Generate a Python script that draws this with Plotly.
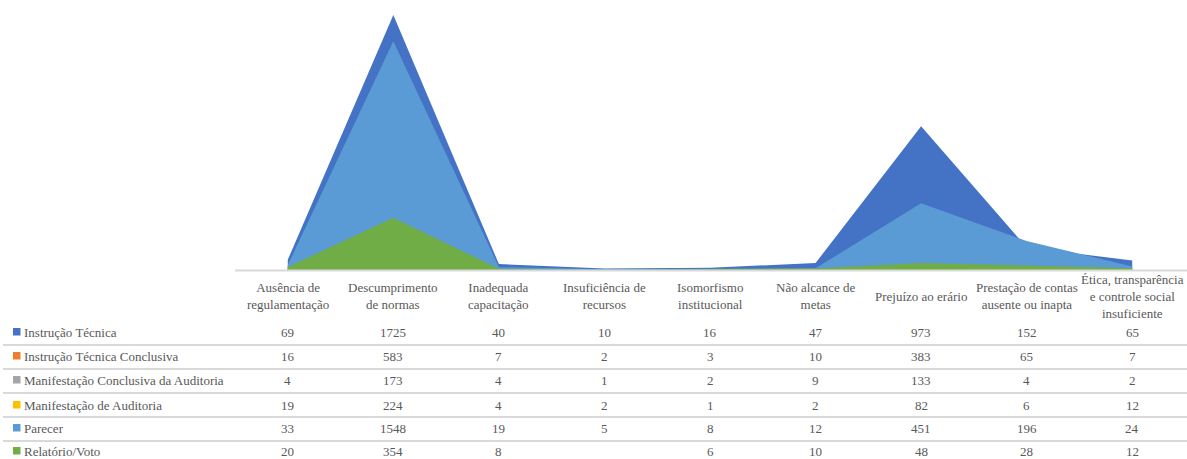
import plotly.graph_objects as go

categories = [
    "Ausência de<br>regulamentação",
    "Descumprimento<br>de normas",
    "Inadequada<br>capacitação",
    "Insuficiência de<br>recursos",
    "Isomorfismo<br>institucional",
    "Não alcance de<br>metas",
    "Prejuízo ao erário",
    "Prestação de contas<br>ausente ou inapta",
    "Ética, transparência<br>e controle social<br>insuficiente",
]

series_names = [
    "Instrução Técnica",
    "Instrução Técnica Conclusiva",
    "Manifestação Conclusiva da Auditoria",
    "Manifestação de Auditoria",
    "Parecer",
    "Relatório/Voto",
]

instrucao_tecnica = [69, 1725, 40, 10, 16, 47, 973, 152, 65]
instrucao_tecnica_conclusiva = [16, 583, 7, 2, 3, 10, 383, 65, 7]
manifestacao_conclusiva = [4, 173, 4, 1, 2, 9, 133, 4, 2]
manifestacao_auditoria = [19, 224, 4, 2, 1, 2, 82, 6, 12]
parecer = [33, 1548, 19, 5, 8, 12, 451, 196, 24]
relatorio_voto = [20, 354, 8, None, 6, 10, 48, 28, 12]

series_values = [
    instrucao_tecnica,
    instrucao_tecnica_conclusiva,
    manifestacao_conclusiva,
    manifestacao_auditoria,
    parecer,
    relatorio_voto,
]

colors = ["#4472C4", "#ED7D31", "#A5A5A5", "#FFC000", "#5B9BD5", "#70AD47"]

W, H = 1187, 459
FONT = "Liberation Serif"
TXT = "#595959"

def px(x):
    return x / W

def py(y):
    return 1 - y / H

fig = go.Figure()
xs = list(range(len(categories)))
for name, vals, col in zip(series_names, series_values, colors):
    fig.add_trace(go.Scatter(
        x=xs, y=[v if v is not None else 0 for v in vals],
        name=name, mode="lines", fill="tozeroy",
        line=dict(width=0, color=col), fillcolor=col,
        showlegend=False,
    ))

annotations = []
shapes = []
# category labels
for i, c in enumerate(categories):
    annotations.append(dict(
        x=i, xref="x", y=py(296), yref="paper", text=c, showarrow=False,
        font=dict(family=FONT, size=13, color=TXT), align="center",
        xanchor="center", yanchor="middle",
    ))

row_y = [332, 356, 380, 405, 428, 451]
sep_y = [345, 369, 393, 417, 441]

for r, (name, vals, col) in enumerate(zip(series_names, series_values, colors)):
    yc = row_y[r]
    shapes.append(dict(type="rect", xref="paper", yref="paper",
                       x0=px(13), x1=px(20.5), y0=py(yc + 3.5), y1=py(yc - 4),
                       fillcolor=col, line=dict(width=0)))
    annotations.append(dict(
        x=px(21.5), xref="paper", y=py(yc), yref="paper", text=name,
        showarrow=False, font=dict(family=FONT, size=13, color=TXT),
        xanchor="left", yanchor="middle",
    ))
    for i, v in enumerate(vals):
        if v is None:
            continue
        annotations.append(dict(
            x=i, xref="x", y=py(yc), yref="paper", text=str(v),
            showarrow=False, font=dict(family=FONT, size=13, color=TXT),
            xanchor="center", yanchor="middle",
        ))

for yy in sep_y:
    shapes.append(dict(type="line", xref="paper", yref="paper",
                       x0=px(3), x1=1, y0=py(yy), y1=py(yy),
                       line=dict(color="#D9D9D9", width=2)))
# axis line
shapes.append(dict(type="line", xref="paper", yref="paper",
                   x0=px(235), x1=1, y0=py(270.5), y1=py(270.5),
                   line=dict(color="#D9D9D9", width=2)))

fig.update_layout(
    width=W, height=H,
    margin=dict(l=0, r=0, t=0, b=0),
    paper_bgcolor="white", plot_bgcolor="white",
    xaxis=dict(domain=[px(235), px(1185)], range=[-0.5, 8.5],
               showgrid=False, zeroline=False, showticklabels=False,
               showline=False, fixedrange=True),
    yaxis=dict(domain=[py(270), py(4)], range=[0, 1800],
               showgrid=False, zeroline=False, showticklabels=False,
               showline=False, fixedrange=True),
    annotations=annotations,
    shapes=shapes,
    font=dict(family=FONT),
)

fig.write_html(
    "out.html",
    config={"displayModeBar": False},
    post_script="document.body.style.margin='0';document.body.style.padding='0';document.body.style.overflow='hidden';",
)
